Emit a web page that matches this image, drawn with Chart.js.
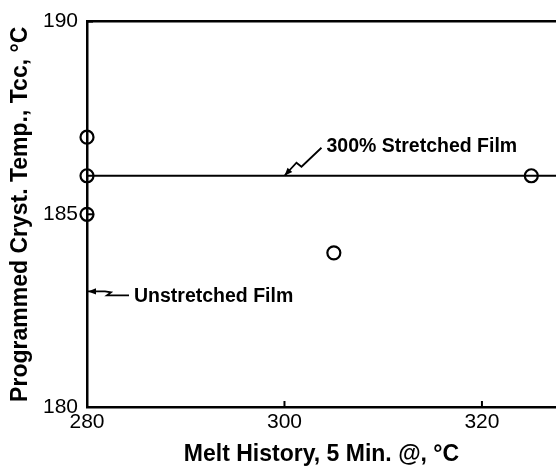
<!DOCTYPE html>
<html>
<head>
<meta charset="utf-8">
<script src="https://cdn.jsdelivr.net/npm/chart.js@4/dist/chart.umd.min.js"></script>
<style>
  html, body { margin: 0; padding: 0; background: #fff; }
  #wrap { width: 556px; height: 466px; }
</style>
</head>
<body>
<div id="wrap"><canvas id="c" width="556" height="466"></canvas></div>
<script>
// Melt history (°C) and programmed crystallization temperature Tcc (°C)
const meltX = [280, 280, 280, 305, 325];
const tccY  = [187, 186, 185, 184, 186];

// 300% stretched film reference level
const stretchedX = [280, 327.5];
const stretchedY = [186, 186];

// Axis ranges and tick labels
const xRange = [280, 327.5];
const yRange = [180, 190];
const xTicks = [280, 300, 320];
const yTicks = [180, 185, 190];

// Callout labels and the data point each arrow points at
const calloutText   = ['300% Stretched Film', 'Unstretched Film'];
const calloutAnchor = [[300, 186], [280, 183]];

const FONT = "'Liberation Sans', Arial, Helvetica, sans-serif";

const points = meltX.map((x, i) => ({ x, y: tccY[i] }));
const stretched = stretchedX.map((x, i) => ({ x, y: stretchedY[i] }));

// Short inward tick marks and the callout arrows
const decorations = {
  id: 'decorations',
  afterDatasetsDraw(chart) {
    const { ctx, chartArea: a, scales: { x, y } } = chart;
    ctx.save();
    ctx.strokeStyle = '#000';
    ctx.fillStyle = '#000';
    ctx.lineWidth = 2;
    xTicks.forEach(v => {
      const px = x.getPixelForValue(v);
      ctx.beginPath(); ctx.moveTo(px, a.bottom); ctx.lineTo(px, a.bottom - 6); ctx.stroke();
    });
    yTicks.forEach(v => {
      const py = y.getPixelForValue(v);
      ctx.beginPath(); ctx.moveTo(a.left, py); ctx.lineTo(a.left + 6, py); ctx.stroke();
    });

    const shapes = [
      { path: [[0, 0], [12, -13], [17, -9], [37, -28]], text: [42, -29] },
      { path: [[1, 0], [18, 0], [24, 1], [20, 4], [42, 4]], text: [47, 5] }
    ];
    ctx.lineWidth = 1.8;
    ctx.font = 'bold 19.5px ' + FONT;
    ctx.textBaseline = 'middle';
    ctx.textAlign = 'left';
    calloutAnchor.forEach(([vx, vy], i) => {
      const tx = x.getPixelForValue(vx), ty = y.getPixelForValue(vy);
      const s = shapes[i];
      const p = s.path.map(([dx, dy]) => [tx + dx, ty + dy]);
      ctx.beginPath();
      ctx.moveTo(p[0][0], p[0][1]);
      for (let k = 1; k < p.length; k++) ctx.lineTo(p[k][0], p[k][1]);
      ctx.stroke();
      // arrow head along the first segment
      const ang = Math.atan2(p[1][1] - p[0][1], p[1][0] - p[0][0]);
      const L = 8, W = 3.2;
      ctx.beginPath();
      ctx.moveTo(p[0][0], p[0][1]);
      ctx.lineTo(p[0][0] + L * Math.cos(ang) - W * Math.sin(ang), p[0][1] + L * Math.sin(ang) + W * Math.cos(ang));
      ctx.lineTo(p[0][0] + L * Math.cos(ang) + W * Math.sin(ang), p[0][1] + L * Math.sin(ang) - W * Math.cos(ang));
      ctx.closePath();
      ctx.fill();
      ctx.fillText(calloutText[i], tx + s.text[0], ty + s.text[1]);
    });
    ctx.restore();
  }
};

new Chart(document.getElementById('c'), {
  type: 'scatter',
  data: {
    datasets: [
      {
        label: '300% Stretched Film',
        data: stretched,
        showLine: true,
        borderColor: '#000',
        borderWidth: 2,
        pointRadius: 0,
        clip: false
      },
      {
        label: 'Tcc',
        data: points,
        pointStyle: 'circle',
        pointRadius: 6.5,
        pointBorderWidth: 2.2,
        pointBorderColor: '#000',
        pointBackgroundColor: 'rgba(0,0,0,0)',
        clip: false
      }
    ]
  },
  options: {
    responsive: false,
    animation: false,
    events: [],
    layout: { autoPadding: false, padding: { top: 21, right: 0, left: 0, bottom: 0 } },
    plugins: { legend: { display: false }, tooltip: { enabled: false } },
    scales: {
      x: {
        type: 'linear',
        position: 'bottom',
        min: xRange[0], max: xRange[1],
        afterBuildTicks: s => { s.ticks = xTicks.map(v => ({ value: v })); },
        afterFit: s => { s.height = 59; },
        grid: { display: false, drawTicks: false },
        border: { display: true, color: '#000', width: 2.5 },
        ticks: { color: '#000', font: { family: FONT, size: 21 }, padding: 3, maxRotation: 0 },
        title: { display: true, text: 'Melt History, 5 Min. @, °C', color: '#000',
                 font: { family: FONT, size: 23, weight: 'bold', lineHeight: 1 }, padding: { top: 0, bottom: 0 } }
      },
      xTop: {
        type: 'linear',
        position: 'top',
        min: xRange[0], max: xRange[1],
        afterFit: s => { s.height = 0; },
        grid: { display: false, drawTicks: false },
        border: { display: true, color: '#000', width: 2.5 },
        ticks: { display: false }
      },
      y: {
        type: 'linear',
        min: yRange[0], max: yRange[1],
        afterBuildTicks: s => { s.ticks = yTicks.map(v => ({ value: v })); },
        afterFit: s => { s.width = 87; },
        grid: { display: false, drawTicks: false },
        border: { display: true, color: '#000', width: 2.5 },
        ticks: { color: '#000', font: { family: FONT, size: 21 }, padding: 9 },
        title: { display: true, text: 'Programmed Cryst. Temp., Tcc, °C', color: '#000',
                 font: { family: FONT, size: 23, weight: 'bold', lineHeight: 1 }, padding: { top: 9, bottom: 0 } }
      }
    }
  },
  plugins: [decorations]
});
</script>
</body>
</html>
